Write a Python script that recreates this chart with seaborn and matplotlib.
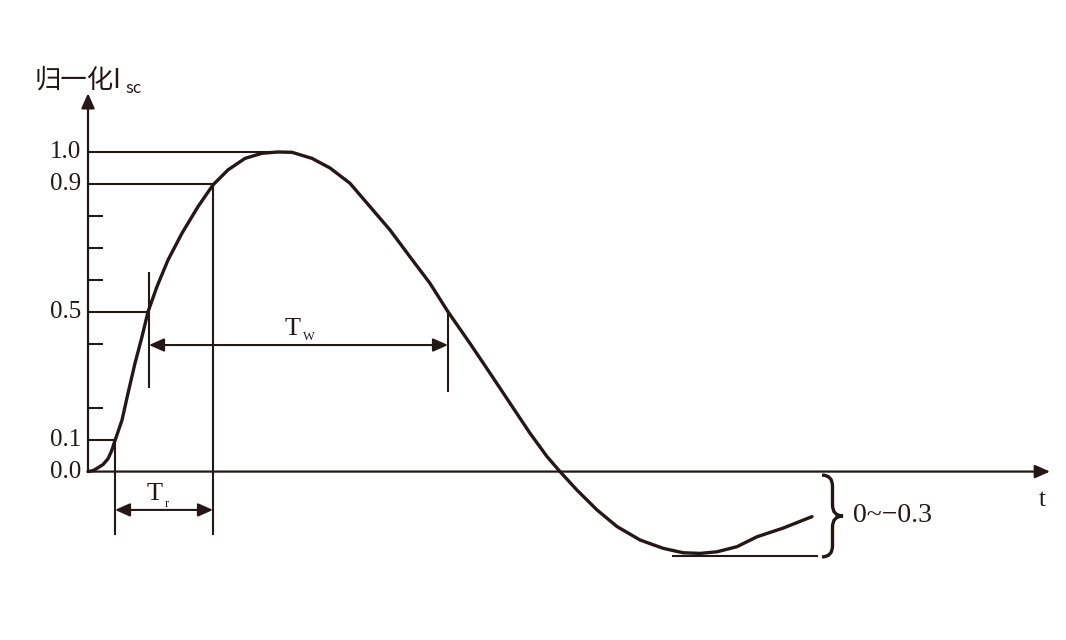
import matplotlib.pyplot as plt
import seaborn as sns
import pandas as pd
from matplotlib.path import Path
from matplotlib.patches import PathPatch

sns.set_theme(style="white")

INK = "#231815"
SERIF = ["Liberation Serif", "DejaVu Serif"]
CJK = ["Noto Sans CJK SC", "DejaVu Sans"]

# normalized short-circuit current (t in arbitrary units)
t_curve = [0.00, 0.05, 0.10, 0.15, 0.20, 0.235, 0.27, 0.34, 0.40, 0.47, 0.54,
           0.60, 0.69, 0.80, 0.94, 1.10, 1.25, 1.40, 1.57, 1.74, 1.90, 2.04,
           2.24, 2.42, 2.62, 2.82, 3.02, 3.22, 3.42, 3.60, 3.82, 4.02, 4.22,
           4.42, 4.59, 4.72, 4.89, 5.09, 5.29, 5.52, 5.75, 5.95, 6.12, 6.29,
           6.49, 6.69, 6.95, 7.24]
i_curve = [0.000, 0.003, 0.012, 0.022, 0.040, 0.064, 0.097, 0.161, 0.245,
           0.339, 0.422, 0.500, 0.579, 0.662, 0.746, 0.829, 0.897, 0.944,
           0.980, 0.996, 1.000, 0.999, 0.980, 0.950, 0.902, 0.829, 0.756,
           0.672, 0.589, 0.500, 0.401, 0.308, 0.214, 0.120, 0.047, 0.000,
           -0.058, -0.120, -0.172, -0.214, -0.240, -0.254, -0.256, -0.251,
           -0.235, -0.204, -0.177, -0.141]

# marked levels and the times where the curve crosses them
level_values = [1.0, 0.9, 0.5, 0.1]
level_times = [1.88, 1.25, 0.61, 0.27]
label_values = [0.0, 0.1, 0.5, 0.9, 1.0]
label_texts = ["0.0", "0.1", "0.5", "0.9", "1.0"]
minor_ticks = [0.2, 0.4, 0.6, 0.7, 0.8]

# rise time (0.1 -> 0.9) and width at half maximum (0.5 -> 0.5)
tr_start, tr_end = 0.27, 1.25
tw_start, tw_end = 0.61, 3.60
undershoot_min = -0.263
undershoot_span = (5.84, 7.30)
undershoot_text = "0~\u22120.3"

curve_df = pd.DataFrame({"t": t_curve, "i": i_curve})

fig = plt.figure(figsize=(10.66, 6.4), dpi=100)
ax = fig.add_axes([0, 0, 1, 1])
ax.set_xlim(-0.88, 9.78)
ax.set_ylim(-0.527, 1.4756)
ax.axis("off")

sns.lineplot(data=curve_df, x="t", y="i", ax=ax, color=INK, lw=2.4,
             solid_joinstyle="round", solid_capstyle="round", zorder=5)

thin = dict(color=INK, lw=1.5, solid_capstyle="butt")

# axes with arrow heads
axis_arrow = dict(arrowstyle="-|>,head_length=0.45,head_width=0.2",
                  mutation_scale=20, color=INK, lw=1.6, shrinkA=0, shrinkB=0)
ax.annotate("", xy=(0, 1.184), xytext=(0, 0), arrowprops=axis_arrow)
ax.annotate("", xy=(9.62, 0), xytext=(0, 0), arrowprops=axis_arrow)

# level lines and labels
for v, tc in zip(level_values, level_times):
    ax.plot([0, tc], [v, v], **thin)
for v in minor_ticks:
    ax.plot([0, 0.15], [v, v], **thin)
for v, s in zip(label_values, label_texts):
    ax.text(-0.07, v, s, ha="right", va="center", fontsize=18,
            family=SERIF, color=INK)

# rise time marker
ax.plot([tr_start, tr_start], [0.1, -0.198], **thin)
ax.plot([tr_end, tr_end], [0.9, -0.198], **thin)
dbl = dict(arrowstyle="<|-|>,head_length=0.45,head_width=0.2",
           mutation_scale=20, color=INK, lw=1.5, shrinkA=0, shrinkB=0)
ax.annotate("", xy=(tr_end, -0.120), xytext=(tr_start, -0.120), arrowprops=dbl)
ax.text(0.67, -0.089, "T", ha="center", va="baseline", fontsize=19,
        family=SERIF, color=INK)
ax.text(0.765, -0.111, "r", ha="left", va="baseline", fontsize=9,
        family=SERIF, color=INK)

# pulse width marker
ax.plot([tw_start, tw_start], [0.624, 0.261], **thin)
ax.plot([tw_end, tw_end], [0.5, 0.249], **thin)
ax.annotate("", xy=(tw_end, 0.396), xytext=(tw_start, 0.396), arrowprops=dbl)
ax.text(2.05, 0.427, "T", ha="center", va="baseline", fontsize=19,
        family=SERIF, color=INK)
ax.text(2.15, 0.412, "W", ha="left", va="baseline", fontsize=9,
        family=SERIF, color=INK)

# undershoot range with brace
ax.plot(list(undershoot_span), [undershoot_min, undershoot_min], **thin)
x0, w = 7.34, 0.21
ytop, ybot, ymid, d = -0.011, -0.267, -0.139, 0.035
xm = x0 + w / 2
verts = [(x0, ytop), (xm, ytop), (xm, ytop - d), (xm, ymid + d),
         (xm, ymid), (x0 + w, ymid), (xm, ymid), (xm, ymid - d),
         (xm, ybot + d), (xm, ybot), (x0, ybot)]
codes = [Path.MOVETO, Path.CURVE3, Path.CURVE3, Path.LINETO,
         Path.CURVE3, Path.CURVE3, Path.CURVE3, Path.CURVE3,
         Path.LINETO, Path.CURVE3, Path.CURVE3]
ax.add_patch(PathPatch(Path(verts, codes), fill=False, ec=INK, lw=2.4))
ax.text(7.65, -0.136, undershoot_text, ha="left", va="center", fontsize=20,
        family=SERIF, color=INK)

# axis labels
ax.text(9.54, -0.089, "t", ha="center", va="center", fontsize=18,
        family=SERIF, color=INK)
ax.text(-0.53, 1.225, "归一化I", ha="left", va="center", fontsize=19,
        family=CJK, color=INK)
ax.text(0.37, 1.184, "sc", ha="left", va="baseline", fontsize=12,
        family=CJK, color=INK)

fig.savefig("out.png", dpi=100)
